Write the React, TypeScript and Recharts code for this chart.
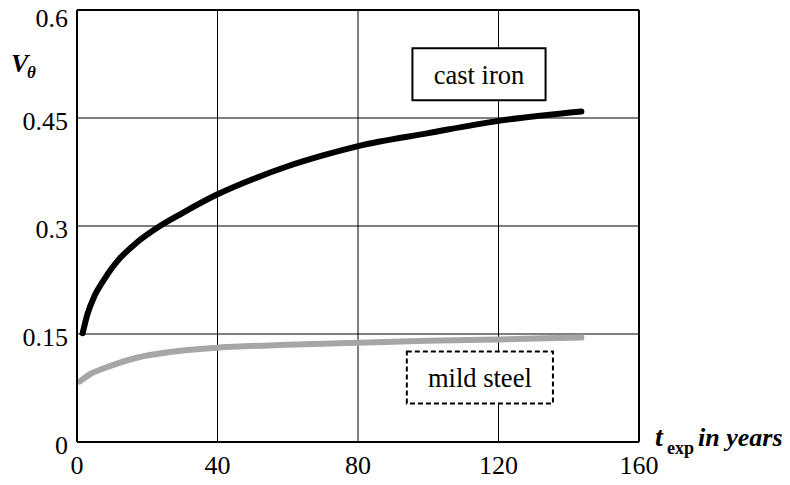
import React from 'react';
import { LineChart, Line, XAxis, YAxis, CartesianGrid, ReferenceLine, ReferenceArea } from 'recharts';

const castIronT = [1.6, 3, 5, 7.5, 10, 12, 17, 23.6, 30, 40, 50, 60, 70, 80, 100, 120, 143.6];
const castIronV = [0.151, 0.178, 0.203, 0.224, 0.242, 0.254, 0.277, 0.3, 0.318, 0.344, 0.365, 0.383, 0.398, 0.411, 0.429, 0.446, 0.459];
const mildSteelT = [0.8, 3.6, 7.5, 12, 17, 26.5, 40, 60, 80, 100, 120, 143.6];
const mildSteelV = [0.084, 0.094, 0.102, 0.11, 0.117, 0.125, 0.131, 0.135, 0.138, 0.1405, 0.1425, 0.145];

const xTicks = [0, 40, 80, 120, 160];
const yTicks = [0, 0.15, 0.3, 0.45, 0.6];
const yTickLabels = ['0', '0.15', '0.3', '0.45', '0.6'];

const castIronLabel = { text: 'cast iron', x1: 95.5, x2: 133.4, y1: 0.4747, y2: 0.547 };
const mildSteelLabel = { text: 'mild steel', x1: 93.9, x2: 135.5, y1: 0.0536, y2: 0.1256 };

const castIron = castIronT.map((t, i) => ({ t, v: castIronV[i] }));
const mildSteel = mildSteelT.map((t, i) => ({ t, v: mildSteelV[i] }));

const FONT = "'Liberation Serif', 'Times New Roman', Tinos, 'DejaVu Serif', 'Noto Serif', serif";
const tickStyle = { fill: '#000', fontSize: 26, fontFamily: FONT, style: { fontFamily: FONT } };

export default function App() {
  return (
    <div style={{ position: 'absolute', left: 0, top: 0, width: 790, height: 485, background: '#fff', fontFamily: FONT }}>
      <LineChart width={790} height={485} margin={{ top: 10, right: 151, bottom: 0, left: 0 }} style={{ fontFamily: FONT }}>
        <CartesianGrid stroke="#000" strokeWidth={1} horizontalValues={yTicks} verticalValues={xTicks} />
        <XAxis
          type="number"
          dataKey="t"
          domain={[0, 160]}
          ticks={xTicks}
          height={43}
          tickLine={false}
          tickSize={0}
          tickMargin={14}
          axisLine={{ stroke: '#000', strokeWidth: 2 }}
          tick={tickStyle}
          allowDataOverflow
        />
        <YAxis
          type="number"
          domain={[0, 0.6]}
          ticks={yTicks}
          width={77}
          tickLine={false}
          tickSize={0}
          tickMargin={9}
          axisLine={{ stroke: '#000', strokeWidth: 2 }}
          tick={{ ...tickStyle, dy: 3 }}
          tickFormatter={(v: number) => yTickLabels[yTicks.indexOf(v)] ?? String(v)}
          allowDataOverflow
        />
        <ReferenceLine y={0.6} stroke="#000" strokeWidth={2} />
        <ReferenceLine x={160} stroke="#000" strokeWidth={2} />
        <ReferenceArea
          x1={castIronLabel.x1}
          x2={castIronLabel.x2}
          y1={castIronLabel.y1}
          y2={castIronLabel.y2}
          fill="#fff"
          fillOpacity={1}
          stroke="#000"
          strokeWidth={2}
          label={{ value: castIronLabel.text, position: 'center', fill: '#000', fontSize: 26.5, fontFamily: FONT, style: { fontFamily: FONT } }}
        />
        <ReferenceArea
          x1={mildSteelLabel.x1}
          x2={mildSteelLabel.x2}
          y1={mildSteelLabel.y1}
          y2={mildSteelLabel.y2}
          fill="#fff"
          fillOpacity={1}
          stroke="#000"
          strokeWidth={2}
          strokeDasharray="5 3"
          label={{ value: mildSteelLabel.text, position: 'center', fill: '#000', fontSize: 26.5, fontFamily: FONT, style: { fontFamily: FONT } }}
        />
        <Line
          data={mildSteel}
          dataKey="v"
          type="monotone"
          stroke="#a6a6a6"
          strokeWidth={6}
          strokeLinecap="round"
          dot={false}
          isAnimationActive={false}
        />
        <Line
          data={castIron}
          dataKey="v"
          type="monotone"
          stroke="#000"
          strokeWidth={6}
          strokeLinecap="round"
          dot={false}
          isAnimationActive={false}
        />
      </LineChart>
      <svg width={790} height={485} style={{ position: 'absolute', left: 0, top: 0, pointerEvents: 'none', fontFamily: FONT }}>
        <text x={11} y={72} style={{ fontFamily: FONT }} fontWeight="bold" fontStyle="italic" fontSize={26} fill="#000">
          V
        </text>
        <text x={27} y={78} style={{ fontFamily: FONT }} fontWeight="bold" fontStyle="italic" fontSize={17} fill="#000">
          θ
        </text>
        <text x={655} y={446} style={{ fontFamily: FONT }} fontWeight="bold" fontStyle="italic" fontSize={28} fill="#000">
          t
        </text>
        <text x={667} y={454} style={{ fontFamily: FONT }} fontWeight="bold" fontSize={18} fill="#000">
          exp
        </text>
        <text x={698} y={446} style={{ fontFamily: FONT }} fontWeight="bold" fontStyle="italic" fontSize={26} fill="#000">
          in years
        </text>
      </svg>
    </div>
  );
}
